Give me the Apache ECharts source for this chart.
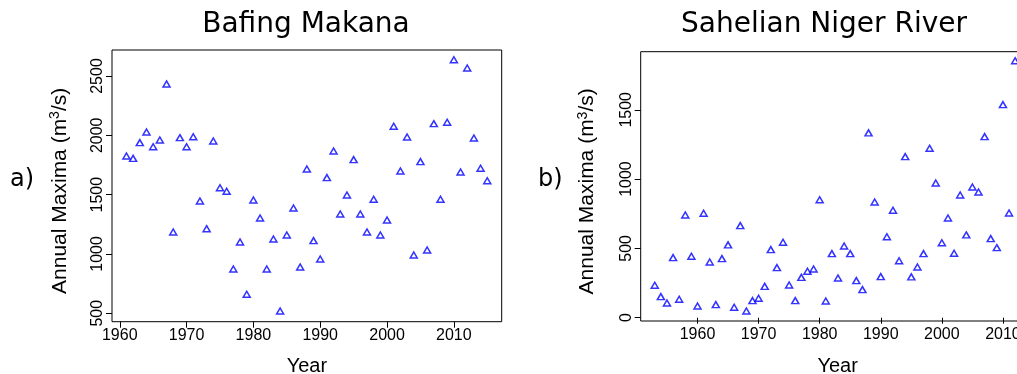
<!DOCTYPE html>
<html>
<head>
<meta charset="utf-8">
<script src="https://cdn.jsdelivr.net/npm/echarts@6/dist/echarts.min.js"></script>
<style>
  html, body { margin: 0; padding: 0; background: #fff; }
  #chart { width: 1017px; height: 374px; }
</style>
</head>
<body>
<div id="chart"></div>
<script>
// a) Bafing Makana
const yearsA = [1961, 1962, 1963, 1964, 1965, 1966, 1967, 1968, 1969, 1970,
  1971, 1972, 1973, 1974, 1975, 1976, 1977, 1978, 1979, 1980,
  1981, 1982, 1983, 1984, 1985, 1986, 1987, 1988, 1989, 1990,
  1991, 1992, 1993, 1994, 1995, 1996, 1997, 1998, 1999, 2000,
  2001, 2002, 2003, 2004, 2005, 2006, 2007, 2008, 2009, 2010,
  2011, 2012, 2013, 2014, 2015]
const maximaA = [1826, 1806, 1938, 2028, 1904, 1960, 2433, 1185, 1980, 1904,
  1988, 1446, 1213, 1952, 1558, 1528, 873, 1101, 660, 1455,
  1303, 873, 1126, 519, 1160, 1387, 890, 1716, 1112, 957,
  1643, 1868, 1337, 1497, 1795, 1337, 1185, 1461, 1160, 1286,
  2076, 1699, 1986, 991, 1778, 1033, 2098, 1461, 2110, 2637,
  1691, 2567, 1977, 1722, 1617]

// b) Sahelian Niger River
const yearsB = [1953, 1954, 1955, 1956, 1957, 1958, 1959, 1960, 1961, 1962,
  1963, 1964, 1965, 1966, 1967, 1968, 1969, 1970, 1971, 1972,
  1973, 1974, 1975, 1976, 1977, 1978, 1979, 1980, 1981, 1982,
  1983, 1984, 1985, 1986, 1987, 1988, 1989, 1990, 1991, 1992,
  1993, 1994, 1995, 1996, 1997, 1998, 1999, 2000, 2001, 2002,
  2003, 2004, 2005, 2006, 2007, 2008, 2009, 2010, 2011, 2012]
const maximaB = [234, 152, 106, 433, 133, 741, 443, 84, 753, 402,
  94, 426, 525, 75, 664, 48, 123, 140, 226, 491,
  361, 544, 236, 123, 291, 335, 351, 851, 120, 462,
  286, 517, 462, 267, 202, 1333, 835, 296, 584, 775,
  411, 1162, 294, 366, 462, 1222, 972, 541, 719, 465,
  885, 597, 943, 907, 1306, 570, 505, 1537, 755, 1854]

const xTicksA = [1960, 1970, 1980, 1990, 2000, 2010]
const yTicksA = [500, 1000, 1500, 2000, 2500]
const xTicksB = [1960, 1970, 1980, 1990, 2000, 2010]
const yTicksB = [0, 500, 1000, 1500]

const tickFont = 'Liberation Sans'
const plain = v => String(v)

function xAxisFor(gridIndex, min, max, ticks) {
  return {
    type: 'value', gridIndex: gridIndex, min: min, max: max,
    name: 'Year', nameLocation: 'middle', nameGap: 35,
    nameTextStyle: { fontFamily: tickFont, fontSize: 20, color: '#000' },
    axisLine: { show: false },
    axisTick: { show: true, length: 6, customValues: ticks, lineStyle: { color: '#000' } },
    axisLabel: { customValues: ticks, formatter: plain, margin: 6,
      fontFamily: tickFont, fontSize: 16, color: '#000' },
    splitLine: { show: false }
  }
}

function yAxisFor(gridIndex, min, max, ticks, gap) {
  return {
    type: 'value', gridIndex: gridIndex, min: min, max: max,
    name: 'Annual Maxima (m{sup|3}/s)', nameLocation: 'middle', nameGap: gap, nameRotate: 90,
    nameTextStyle: { fontFamily: tickFont, fontSize: 21, color: '#000', padding: [0, 10, 0, 0],
      rich: { sup: { fontFamily: tickFont, fontSize: 14, color: '#000', padding: [0, 0, 10, 0] } } },
    axisLine: { show: false },
    axisTick: { show: true, length: 6, customValues: ticks, lineStyle: { color: '#000' } },
    axisLabel: { customValues: ticks, formatter: plain, rotate: 90, margin: 6,
      fontFamily: tickFont, fontSize: 16, color: '#000' },
    splitLine: { show: false }
  }
}

const markerStyle = { color: 'transparent', borderColor: '#0000ff', borderWidth: 1.5 }

const chart = echarts.init(document.getElementById('chart'), null, { renderer: 'canvas' })
chart.setOption({
  animation: false,
  backgroundColor: '#fff',
  title: [
    { text: 'Bafing Makana', left: 306, top: 11, textAlign: 'center', padding: 0,
      textStyle: { fontFamily: 'DejaVu Sans', fontSize: 28, fontWeight: 'normal', color: '#000' } },
    { text: 'Sahelian Niger River', left: 824, top: 11, textAlign: 'center', padding: 0,
      textStyle: { fontFamily: 'DejaVu Sans', fontSize: 28, fontWeight: 'normal', color: '#000' } }
  ],
  graphic: [
    { type: 'text', left: 10, top: 168, style: { text: 'a)', font: '24px "DejaVu Sans"', fill: '#000' } },
    { type: 'text', left: 538, top: 168, style: { text: 'b)', font: '24px "DejaVu Sans"', fill: '#000' } }
  ],
  grid: [
    { left: 112, right: 515.3, top: 50, bottom: 52.3, show: true, outerBoundsMode: 'none',
      borderColor: '#000', borderWidth: 1, backgroundColor: 'transparent' },
    { left: 640.7, right: -17.7, top: 51.7, bottom: 53, show: true, outerBoundsMode: 'none',
      borderColor: '#000', borderWidth: 1, backgroundColor: 'transparent' }
  ],
  xAxis: [
    xAxisFor(0, 1958.84, 2017.16, xTicksA),
    xAxisFor(1, 1950.7, 2015.2, xTicksB)
  ],
  yAxis: [
    yAxisFor(0, 429, 2719, yTicksA, 40),
    yAxisFor(1, -24, 1919, yTicksB, 41)
  ],
  series: [
    { type: 'scatter', xAxisIndex: 0, yAxisIndex: 0, symbol: 'triangle', symbolSize: [7, 6],
      itemStyle: markerStyle, data: yearsA.map((y, i) => [y, maximaA[i]]) },
    { type: 'scatter', xAxisIndex: 1, yAxisIndex: 1, symbol: 'triangle', symbolSize: [7, 6],
      itemStyle: markerStyle, data: yearsB.map((y, i) => [y, maximaB[i]]) }
  ]
})
</script>
</body>
</html>
